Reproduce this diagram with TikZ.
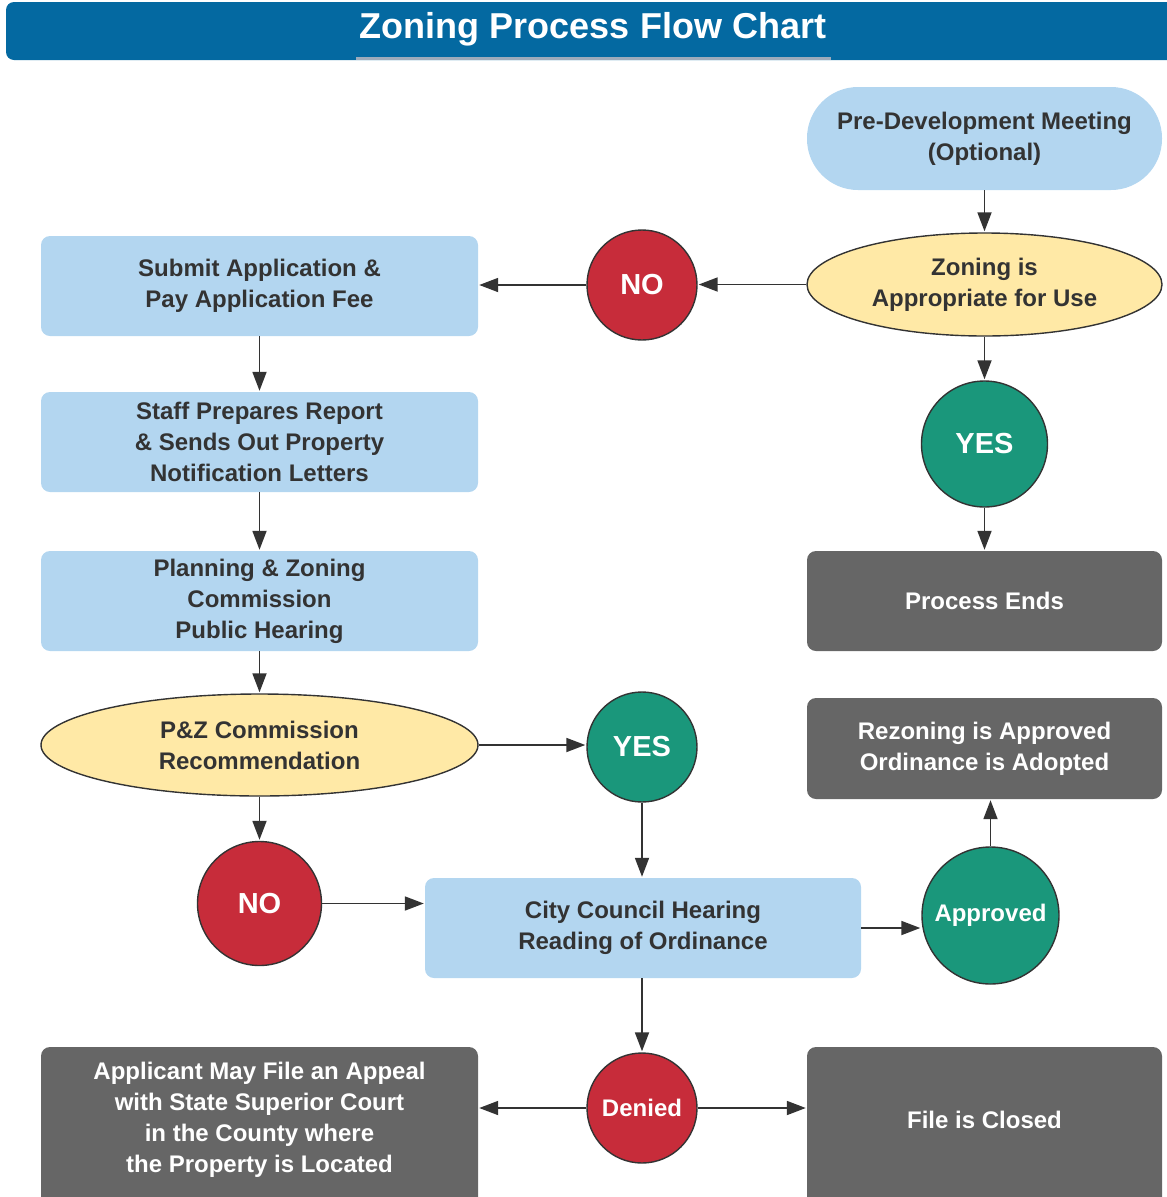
\documentclass[tikz,border=0pt]{standalone}
\usepackage{fontspec}
\setmainfont{Liberation Sans}
\usetikzlibrary{shapes.geometric,arrows.meta}
\definecolor{lblue}{HTML}{B3D6F0}
\definecolor{lyellow}{HTML}{FFE9A6}
\definecolor{nored}{HTML}{C72C3A}
\definecolor{yesgreen}{HTML}{1A977B}
\definecolor{boxgray}{HTML}{666666}
\definecolor{titleblue}{HTML}{0469A1}
\definecolor{ink}{HTML}{333333}
\definecolor{uline}{HTML}{9DABBB}
\tikzset{
  txt/.style={font=\fontsize{24}{31}\selectfont\bfseries, align=center},
  lbox/.style={txt, rectangle, rounded corners=9pt, fill=lblue, text=ink, minimum width=437pt, minimum height=100pt, inner sep=0pt},
  gbox/.style={txt, rectangle, rounded corners=9pt, fill=boxgray, text=white, minimum width=355pt, minimum height=100pt, inner sep=0pt},
  yell/.style={txt, ellipse, fill=lyellow, draw=ink, line width=1.4pt, text=ink, inner sep=0pt},
  circ/.style={circle, draw=ink, line width=1.4pt, text=white, inner sep=0pt, font=\fontsize{29}{34}\selectfont\bfseries},
  nocirc/.style={circ, fill=nored},
  yescirc/.style={circ, fill=yesgreen},
  arr/.style={draw=ink, line width=1.8pt, -{Triangle[length=19pt,width=14pt]}, shorten >=1pt},
}
\begin{document}
\begin{tikzpicture}[x=1pt,y=-1pt]
\useasboundingbox (0,0) rectangle (1167,1197);
\clip (0,0) rectangle (1167,1197);
% title bar
\fill[titleblue, rounded corners=8pt] (6,2) rectangle (1185,60);
\node[font=\fontsize{36}{40}\selectfont\bfseries, text=white] (title) at (593,29) {Zoning Process Flow Chart};
\draw[uline, line width=3pt] (356,58) -- (831,58);
% nodes
\node[txt, rectangle, rounded corners=51pt, fill=lblue, text=ink, minimum width=355pt, minimum height=103pt] (pre) at (984.5,138.5) {Pre-Development Meeting\\(Optional)};
\node[yell, minimum width=355pt, minimum height=103pt] (zon) at (984.5,284.5) {Zoning is\\Appropriate for Use};
\node[nocirc, minimum size=110pt] (no1) at (642,285) {NO};
\node[lbox] (sub) at (259.5,286) {Submit Application \&\\Pay Application Fee};
\node[lbox] (staff) at (259.5,442) {Staff Prepares Report\\\& Sends Out Property\\Notification Letters};
\node[lbox] (plan) at (259.5,601) {Planning \& Zoning\\Commission\\Public Hearing};
\node[yell, minimum width=437pt, minimum height=102pt] (pz) at (259.5,745) {P\&Z Commission\\Recommendation};
\node[yescirc, minimum size=126pt] (yes1) at (984.5,444) {YES};
\node[gbox] (pend) at (984.5,601) {Process Ends};
\node[yescirc, minimum size=110pt] (yes2) at (642,747) {YES};
\node[gbox, minimum height=101pt] (rez) at (984.5,748.5) {Rezoning is Approved\\Ordinance is Adopted};
\node[nocirc, minimum size=124pt] (no2) at (259.5,903.5) {NO};
\node[lbox, minimum width=436pt] (city) at (643,928) {City Council Hearing\\Reading of Ordinance};
\node[yescirc, minimum size=137pt, font=\fontsize{24}{28}\selectfont\bfseries] (appr) at (990.5,915.5) {Approved};
\node[nocirc, minimum size=110pt, font=\fontsize{24}{28}\selectfont\bfseries] (den) at (642,1108) {Denied};
\node[gbox, minimum width=437pt, minimum height=170pt] (app) at (259.5,1132) {};
\node[txt, text=white] (apptxt) at (259.5,1120) {Applicant May File an Appeal\\with State Superior Court\\in the County where\\the Property is Located};
\node[gbox, minimum height=170pt] (fc) at (984.5,1132) {};
\node[txt, text=white] (fctxt) at (984.5,1120) {File is Closed};
% connectors
\draw[arr] (pre.south) -- (zon.north);
\draw[arr] (zon.west) -- (no1.east |- zon.west);
\draw[arr] (no1.west) -- (sub.east |- no1.west);
\draw[arr] (zon.south) -- (yes1.north);
\draw[arr] (yes1.south) -- (pend.north);
\draw[arr] (sub.south) -- (staff.north);
\draw[arr] (staff.south) -- (plan.north);
\draw[arr] (plan.south) -- (pz.north);
\draw[arr] (pz.east) -- (yes2.west |- pz.east);
\draw[arr] (pz.south) -- (no2.north);
\draw[arr] (yes2.south) -- (yes2.south |- city.north);
\draw[arr] (no2.east) -- (city.west |- no2.east);
\draw[arr] (city.east) -- (appr.west |- city.east);
\draw[arr] (appr.north) -- (appr.north |- rez.south);
\draw[arr] (city.south -| den.north) -- (den.north);
\draw[arr] (den.west) -- (app.east |- den.west);
\draw[arr] (den.east) -- (fc.west |- den.east);
\end{tikzpicture}
\end{document}
